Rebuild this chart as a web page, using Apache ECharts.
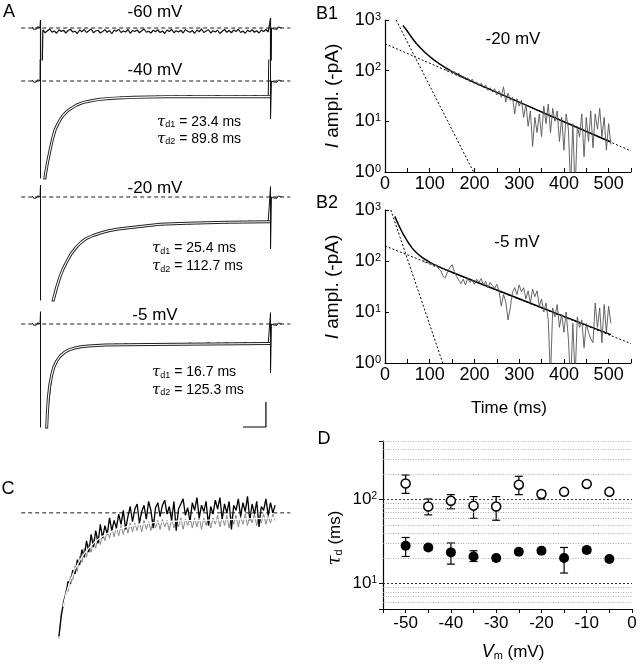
<!DOCTYPE html>
<html lang="en">
<head>
<meta charset="UTF-8">
<title>Figure</title>
<script src="https://cdn.jsdelivr.net/npm/echarts/dist/echarts.min.js"></script>
<style>body{margin:0;background:#fff;}</style>
</head>
<body>
<div id="main" style="width:642px;height:670px;"></div>
<script>
var FONT = '"Liberation Sans", Arial, sans-serif';

// ---------- panel A : current traces (ms, pA; 0 = holding level) ----------
var pulseT = [5,15,25,35,45,55,65,75,85,95,105,115,125,135,145,155,165,175,185,195,205,215,225,235,245,255,265,275,285,295,305,315,325,335,345,355,365,375,385,395,405,415,425,435,445,455,465,475,485,495];
var t60 = [5,10,15,20,25,30,35,40,45,50,55,60,65,70,75,80,85,90,95,100,105,110,115,120,125,130,135,140,145,150,155,160,165,170,175,180,185,190,195,200,205,210,215,220,225,230,235,240,245,250,255,260,265,270,275,280,285,290,295,300,305,310,315,320,325,330,335,340,345,350,355,360,365,370,375,380,385,390,395,400,405,410,415,420,425,430,435,440,445,450,455,460,465,470,475,480,485,490,495];
var trace60 = [-40,-95,-55,-20,-85,-60,-105,-35,-70,-45,-100,-50,-25,-80,-65,-110,-40,-75,-30,-90,-55,-20,-95,-60,-45,-100,-70,-35,-85,-50,-115,-40,-65,-25,-90,-60,-80,-30,-105,-50,-70,-40,-95,-55,-20,-85,-65,-100,-45,-75,-35,-90,-60,-110,-40,-70,-25,-95,-55,-80,-45,-100,-30,-65,-85,-50,-105,-40,-75,-20,-90,-60,-35,-100,-55,-80,-45,-110,-65,-30,-85,-50,-95,-40,-70,-25,-90,-60,-105,-45,-75,-35,-85,-55,-100,-40,-70,-30,-80];
var trace40 = [-2400,-1660,-1220,-915,-750,-635,-565,-500,-465,-430,-410,-375,-385,-350,-365,-330,-350,-320,-345,-315,-335,-310,-330,-305,-325,-300,-330,-305,-320,-295,-325,-310,-290,-320,-305,-330,-300,-315,-290,-320,-305,-325,-295,-315,-300,-325,-290,-310,-300,-320];
var trace20 = [-3000,-2600,-2240,-1830,-1540,-1335,-1185,-1045,-945,-870,-810,-775,-745,-700,-700,-650,-660,-620,-640,-595,-615,-575,-595,-555,-575,-535,-560,-525,-550,-515,-540,-510,-540,-505,-535,-500,-530,-495,-525,-490,-520,-490,-515,-485,-515,-480,-510,-485,-510,-480];
var trace5 = [-3500,-1805,-1000,-745,-645,-555,-515,-480,-465,-455,-435,-445,-415,-435,-405,-430,-400,-425,-395,-420,-400,-425,-395,-415,-390,-420,-395,-410,-385,-415,-390,-405,-380,-410,-385,-400,-375,-405,-380,-395,-375,-400,-380,-395,-370,-400,-375,-390,-370,-395];
var preT = [-18,-15,-12,-9,-6,-3,-1];
var preI = [20,-25,15,-20,25,-15,0];
var postT = [502,505,508,511,514,517,520,524];
var postI = [0,25,-20,15,-25,20,-10,0];
// capacitive transients [up, down] at pulse on / off
var onPk = {m60:[160,-3000], m40:[3000,-3000], m20:[240,-3000], m5:[246,-3000]};
var offPk = {m60:[200,-3000], m40:[3000,-760], m20:[206,-1040], m5:[226,-980]};
// bi-exponential fits [ms, pA]
var fit40 = [[6,-2300],[9.8,-1913],[15,-1640],[20.7,-1380],[26,-1160],[31.5,-980],[37,-870],[42.4,-780],[49,-690],[56.9,-613],[67,-545],[78.6,-480],[92,-432],[107.6,-400],[125,-372],[143.8,-353],[170,-338],[201.8,-327],[274,-313],[499,-313]];
var fit20 = [[24,-2300],[27.8,-2060],[35,-1810],[42.4,-1594],[49,-1440],[57,-1294],[67,-1130],[78.7,-994],[89,-900],[100.4,-826],[114,-770],[129,-726],[146,-680],[165.7,-646],[201.7,-606],[259.8,-546],[317.8,-526],[404.8,-506],[499,-494]];
var fit5 = [[12,-2400],[13.5,-2054],[15,-1760],[17,-1480],[20,-1230],[24.3,-1020],[29,-860],[35.2,-740],[43,-640],[53.3,-560],[63,-512],[75,-480],[88,-456],[104,-440],[140,-420],[238,-410],[499,-390]];
var tau40 = ['23.4','89.8'], tau20 = ['25.4','112.7'], tau5 = ['16.7','125.3'];

// ---------- panel C : superimposed normalized traces ----------
var cT = [40,45,50,55,60,65,70,75,80,85,90,95,100,105,110,115,120,125,130,135,140,145,150,155,160,165,170,175,180,185,190,195,200,205,210,215,220,225,230,235,240,245,250,255,260,265,270,275,280,285,290,295,300,305,310,315,320,325,330,335,340,345,350,355,360,365,370,375,380,385,390,395,400,405,410,415,420,425,430,435,440,445,450,455,460,465,470,475,480,485,490,495,500,505,510];
var cBlack = [-97,-82,-70,-64,-54,-56,-45,-48,-37,-41,-29,-35,-22,-31,-17,-27,-14,-24,-9,-20,-10,-17,-4,-14,-6,-12,-1,-9,2,-13,-3,5,-7,3,7,-8,1,6,-5,9,2,-12,4,8,-3,6,10,-1,5,-6,9,-14,3,7,11,-2,4,-7,8,2,12,-4,6,1,9,-10,5,-1,10,3,12,-5,7,0,9,-13,6,2,11,-3,8,1,13,-6,7,-1,9,-11,5,2,11,-2,8,0,6];
var cGray = [-99,-78,-74,-61,-62,-50,-53,-42,-46,-34,-39,-28,-35,-25,-31,-21,-28,-18,-25,-16,-22,-14,-20,-12,-19,-11,-18,-10,-17,-9,-16,-8,-15,-8,-14,-7,-15,-6,-13,-7,-14,-5,-12,-6,-13,-5,-11,-6,-14,-4,-12,-5,-11,-4,-13,-5,-10,-3,-12,-4,-11,-3,-13,-4,-10,-3,-12,-4,-9,-2,-11,-3,-10,-2,-12,-3,-9,-2,-11,-3,-9,-1,-10,-2,-8,-1,-10,-2,-8,-1,-9,-2,-8,-1,-6];
var cFit = [[48.9,-74],[56,-63],[64.1,-54.3],[74,-45],[85.9,-37],[96,-31.5],[107.6,-26.8],[118,-23],[129.3,-19.7],[145,-16.2],[162,-13.4],[194.6,-10.2],[238,-7.9],[303,-6.3],[390,-5.5],[510,-3.9]];

// ---------- panel B : semilog decay of the current amplitude ----------
var b1T = [135,140,145,150,155,160,165,170,175,180,185,190,195,200,205,210,215,220,225,230,235,240,245,250,255,260,265,270,275,280,285,290,295,300,305,310,315,320,325,330,335,340,345,350,355,360,365,370,375,380,385,390,395,400,405,410,415,420,425,430,435,440,445,450,455,460,465,470,475,480,485,490,495,500,505];
var b1I = [110,95,105,88,96,80,90,72,78,66,72,60,68,55,60,50,56,46,52,41,46,38,44,33,40,30,48,24,36,26,30,14,28,20,26,12,22,8,16,3.2,12,6,14,5,20,9,22,6,18,10,16,4,12,2.7,14,7,0.5,9,0.4,8,5,14,2,12,4,16,3,14,7,18,5,12,2.7,9,3.5];
var b1Fit = [[40,780],[45,690],[50,600],[55,520],[60,446],[70,345],[80,278],[90,226],[100,190],[110,162],[120,140],[135,115],[150,96],[175,74],[200,58],[300,24],[400,9.8],[505,3.9]];
var b1Fast = [[25,1000],[198,1]];
var b1Slow = [[0,340],[550,2.6]];

var b2T = [85,90,95,100,105,110,115,120,125,130,135,140,145,150,155,160,165,170,175,180,185,190,195,200,205,210,215,220,225,230,235,240,245,250,255,260,265,270,275,280,285,290,295,300,305,310,315,320,325,330,335,340,345,350,355,360,365,370,375,380,385,390,395,400,405,410,415,420,425,430,435,440,445,450,455,460,465,470,475,480,485,490,495,500,505];
var b2I = [104,92,98,86,90,78,84,70,64,50,47,62,74,85,62,50,42,36,44,34,46,38,42,35,44,38,45,34,40,30,38,33,29,35,26,13,22,16,7,12,24,30,22,34,25,30,18,26,15,28,20,26,13,18,10,15,7,0.5,12,8,14,5,9,4,10,3,0.4,6,0.5,8,5,7,2,6,4,3,2.5,15,5,12,2.5,14,4,13,6];
var b2Fit = [[22,750],[26,620],[30,519],[35,420],[40,344],[45,290],[50,244],[55,210],[60,183],[67,155],[75,134],[82,119],[90,107],[100,95],[110,85],[130,71],[150,60],[200,40],[300,18.2],[400,8.2],[505,3.6]];
var b2Fast = [[13,1000],[129,1]];
var b2Slow = [[0,197],[550,2.4]];

// ---------- panel D : decay time constants vs. voltage ----------
var vm = [-50,-45,-40,-35,-30,-25,-20,-15,-10,-5];
var tauSlow = [156,83,97,85,83,151,117,124,154,124];
var tauSlowLo = [119,66,78,60,57,115,102,116,146,117];
var tauSlowHi = [197,102,115,109,109,190,128,132,162,131];
var tauFast = [28.3,27,23.6,21.1,20.2,24,24.7,20.2,25.2,19.7];
var tauFastLo = [21.1,25,17.1,18.4,18.8,22.5,23,13.4,23.2,18.6];
var tauFastHi = [35.5,29,30.5,24.7,21.6,25.6,26.5,27,27.3,20.8];
var dGridMajor = [10,100];
var dGridMinor = [6,7,8,9,20,30,40,50,60,70,80,90,200,300,400,500];

var myChart = echarts.init(document.getElementById('main'));

function zip(xs, ys) {
    return xs.map(function (x, i) { return [x, ys[i]]; });
}
function buildTrace(ts, vals, on, off) {
    var d = zip(preT, preI);
    d.push([0, on[0]], [0, on[1]]);
    d = d.concat(zip(ts, vals));
    d.push([500, off[0]], [500, off[1]]);
    return d.concat(zip(postT, postI));
}
function line(gi, data, color, width, type, extra) {
    var s = {
        type: 'line', xAxisIndex: gi, yAxisIndex: gi, data: data,
        symbol: 'none', silent: true, animation: false,
        lineStyle: {color: color, width: width, type: type || 'solid'}
    };
    for (var k in extra) s[k] = extra[k];
    return s;
}

var grids = [
    {left: 21.2, top: 16, width: 269.1, height: 44},    // A -60
    {left: 21.2, top: 60, width: 269.1, height: 118},   // A -40
    {left: 21.2, top: 184, width: 269.1, height: 116},  // A -20
    {left: 21.2, top: 311, width: 269.1, height: 116},  // A -5
    {left: 21.2, top: 490, width: 269.1, height: 160},  // C
    {left: 385, top: 20, width: 246, height: 152},      // B1
    {left: 385, top: 210, width: 246, height: 153},     // B2
    {left: 383, top: 441, width: 249, height: 168}      // D
];
grids.forEach(function (g) { g.containLabel = false; g.outerBoundsMode = 'none'; });

var yRanges = [[-640, 240], [-1940, 420], [-2060, 260], [-2060, 260], [-108, 18]];
var xAxes = [], yAxes = [];
yRanges.forEach(function (r, i) {
    xAxes.push({gridIndex: i, type: 'value', min: -42, max: 543, show: false});
    yAxes.push({gridIndex: i, type: 'value', min: r[0], max: r[1], show: false});
});

var axLine = {show: true, onZero: false, lineStyle: {color: '#000', width: 1.2}};
var powRich = {
    b: {fontSize: 18, fontFamily: FONT, color: '#000'},
    e: {fontSize: 11, fontFamily: FONT, color: '#000', verticalAlign: 'top'}
};
function powLabel(v) {
    var e = Math.log(v) / Math.LN10;
    if (Math.abs(e - Math.round(e)) > 1e-6) return '';
    return '{b|10}{e|' + Math.round(e) + '}';
}
[5, 6].forEach(function (gi) {
    xAxes.push({
        gridIndex: gi, type: 'value', min: 0, max: 550, interval: 50,
        axisLine: axLine,
        axisTick: {show: true, inside: true, length: 4, lineStyle: {color: '#000'}},
        axisLabel: {margin: 3, color: '#000', fontSize: 18, fontFamily: FONT,
            formatter: function (v) { return v % 100 === 0 ? String(v) : ''; }},
        splitLine: {show: false}
    });
    yAxes.push({
        gridIndex: gi, type: 'log', logBase: 10, min: 1, max: 1000,
        axisLine: axLine,
        axisTick: {show: true, inside: true, length: 4, lineStyle: {color: '#000'}},
        axisLabel: {margin: 4, formatter: powLabel, rich: powRich},
        splitLine: {show: false}
    });
});
xAxes.push({
    gridIndex: 7, type: 'value', min: -55, max: 0, interval: 5,
    axisLine: axLine,
    axisTick: {show: true, length: 4, lineStyle: {color: '#000'}},
    axisLabel: {margin: 6, color: '#000', fontSize: 17, fontFamily: FONT,
        formatter: function (v) { return v % 10 === 0 ? String(v) : ''; }},
    splitLine: {show: false}
});
yAxes.push({
    gridIndex: 7, type: 'log', logBase: 10, min: 5, max: 500,
    axisLine: axLine,
    axisTick: {show: true, length: 4, lineStyle: {color: '#000'}},
    axisLabel: {margin: 6, formatter: powLabel, rich: {
        b: {fontSize: 17, fontFamily: FONT, color: '#000'},
        e: {fontSize: 10, fontFamily: FONT, color: '#000', verticalAlign: 'top'}}},
    splitLine: {show: false}
});

var series = [];
var base = [[-42, 0], [543, 0]];
var dash = [4, 3];
// panel A
var aTraces = [
    {gi: 0, ts: t60, vals: trace60, key: 'm60', fit: null},
    {gi: 1, ts: pulseT, vals: trace40, key: 'm40', fit: fit40},
    {gi: 2, ts: pulseT, vals: trace20, key: 'm20', fit: fit20},
    {gi: 3, ts: pulseT, vals: trace5, key: 'm5', fit: fit5}
];
aTraces.forEach(function (a) {
    series.push(line(a.gi, base, '#000', 0.9, dash));
    series.push(line(a.gi, buildTrace(a.ts, a.vals, onPk[a.key], offPk[a.key]), '#111', a.fit ? 1 : 1.2));
    if (a.fit) {
        series.push(line(a.gi, a.fit, '#222', 3, 'solid'));
        series.push(line(a.gi, a.fit, '#fff', 1.1, 'solid'));
    }
});
// scale bar: 50 ms, 500 pA
series.push(line(3, [[440, -2060], [490, -2060], [490, -1560]], '#000', 1.2, 'solid', {clip: false}));
// panel C
series.push(line(4, base, '#000', 0.9, dash));
series.push(line(4, zip(cT, cGray), '#8a8a8a', 1));
series.push(line(4, zip(cT, cBlack), '#000', 1.3));
series.push(line(4, cFit, '#fff', 1.2, 'solid'));
// panel B
[[5, b1T, b1I, b1Fit, b1Fast, b1Slow], [6, b2T, b2I, b2Fit, b2Fast, b2Slow]].forEach(function (b) {
    series.push(line(b[0], b[4], '#000', 1, [2, 2]));
    series.push(line(b[0], b[5], '#000', 1, [2, 2]));
    series.push(line(b[0], b[3], '#000', 1.5, 'solid'));
    series.push(line(b[0], zip(b[1], b[2]), '#555', 0.9));
});
// panel D
var gridMarks = dGridMinor.map(function (v) {
    return {yAxis: v, lineStyle: {color: '#9a9a9a', type: [1, 1.5], width: 0.8}};
}).concat(dGridMajor.map(function (v) {
    return {yAxis: v, lineStyle: {color: '#222', type: [2, 2], width: 0.9}};
}));
series.push(line(7, zip(vm, tauSlow), '#000', 0, 'solid', {
    lineStyle: {opacity: 0}, z: 1,
    markLine: {symbol: ['none', 'none'], silent: true, animation: false, label: {show: false}, data: gridMarks}
}));
function errBars(lo, hi) {
    return {
        type: 'custom', xAxisIndex: 7, yAxisIndex: 7, silent: true, animation: false, z: 3,
        data: vm.map(function (v, i) { return [v, lo[i], hi[i]]; }),
        encode: {x: 0, y: [1, 2]},
        renderItem: function (params, api) {
            var p1 = api.coord([api.value(0), api.value(2)]);
            var p2 = api.coord([api.value(0), api.value(1)]);
            var w = 4, st = {stroke: '#000', lineWidth: 1.2};
            return {type: 'group', children: [
                {type: 'line', shape: {x1: p1[0], y1: p1[1], x2: p2[0], y2: p2[1]}, style: st},
                {type: 'line', shape: {x1: p1[0] - w, y1: p1[1], x2: p1[0] + w, y2: p1[1]}, style: st},
                {type: 'line', shape: {x1: p2[0] - w, y1: p2[1], x2: p2[0] + w, y2: p2[1]}, style: st}
            ]};
        }
    };
}
series.push(errBars(tauSlowLo, tauSlowHi));
series.push(errBars(tauFastLo, tauFastHi));
series.push({type: 'scatter', xAxisIndex: 7, yAxisIndex: 7, data: zip(vm, tauSlow), symbol: 'circle', symbolSize: 9,
    itemStyle: {color: '#fff', borderColor: '#000', borderWidth: 1.5, opacity: 1}, z: 5, silent: true, animation: false});
series.push({type: 'scatter', xAxisIndex: 7, yAxisIndex: 7, data: zip(vm, tauFast), symbol: 'circle', symbolSize: 10,
    itemStyle: {color: '#000', opacity: 1}, z: 5, silent: true, animation: false});

// texts
function txt(x, y, s, size, align, extra) {
    var st = {text: s, fontSize: size, fontFamily: FONT, fill: '#000', align: align || 'center', verticalAlign: 'middle'};
    var el = {type: 'text', x: x, y: y, silent: true, style: st};
    for (var k in extra) {
        if (k === 'rotation') el.rotation = extra[k]; else st[k] = extra[k];
    }
    return el;
}
var subRich = {
    t: {fontSize: 15, fontStyle: 'italic', fontFamily: '"DejaVu Serif", serif', fill: '#000', color: '#000'},
    i: {fontSize: 19, fontStyle: 'italic', fontFamily: FONT, fill: '#000', color: '#000'},
    v: {fontSize: 18, fontStyle: 'italic', fontFamily: FONT, fill: '#000', color: '#000'},
    s: {fontSize: 9, fontFamily: FONT, fill: '#000', color: '#000', verticalAlign: 'bottom'},
    m: {fontSize: 11, fontFamily: FONT, fill: '#000', color: '#000', verticalAlign: 'bottom'}
};
function tauTxt(x, y, n, v) {
    return txt(x, y, '{t|τ}{s|d' + n + '} = ' + v + ' ms', 14, 'left', {rich: subRich});
}
var graphics = [
    txt(9, 12.5, 'A', 18), txt(155, 12.5, '-60 mV', 17), txt(155, 70.5, '-40 mV', 17),
    txt(155, 188, '-20 mV', 17), txt(155, 315.5, '-5 mV', 17),
    tauTxt(157, 122, 1, tau40[0]), tauTxt(157, 139, 2, tau40[1]),
    tauTxt(152, 248.5, 1, tau20[0]), tauTxt(152, 266.5, 2, tau20[1]),
    tauTxt(152, 372.5, 1, tau5[0]), tauTxt(152, 390, 2, tau5[1]),
    txt(8, 489, 'C', 18),
    txt(316, 14, 'B1', 18, 'left'), txt(316, 203, 'B2', 18, 'left'), txt(324, 439, 'D', 18),
    txt(513, 39, '-20 mV', 17), txt(517, 242, '-5 mV', 17),
    txt(509, 408, 'Time (ms)', 17),
    txt(513, 652, '{v|V}{m|m} (mV)', 17, 'center', {rich: subRich}),
    txt(333, 96, '{i|I} ampl. (-pA)', 19, 'center', {rich: subRich, rotation: Math.PI / 2}),
    txt(333, 287, '{i|I} ampl. (-pA)', 19, 'center', {rich: subRich, rotation: Math.PI / 2}),
    txt(335, 538, '{t|τ}{s|d} (ms)', 17, 'center', {rich: {
        t: {fontSize: 18, fontStyle: 'italic', fontFamily: '"DejaVu Serif", serif', fill: '#000'},
        s: {fontSize: 11, fontFamily: FONT, fill: '#000', verticalAlign: 'bottom'}}, rotation: Math.PI / 2})
];

option = {
    backgroundColor: '#fff',
    animation: false,
    textStyle: {fontFamily: FONT},
    grid: grids,
    xAxis: xAxes,
    yAxis: yAxes,
    series: series,
    graphic: graphics
};
myChart.setOption(option);
</script>
</body>
</html>
